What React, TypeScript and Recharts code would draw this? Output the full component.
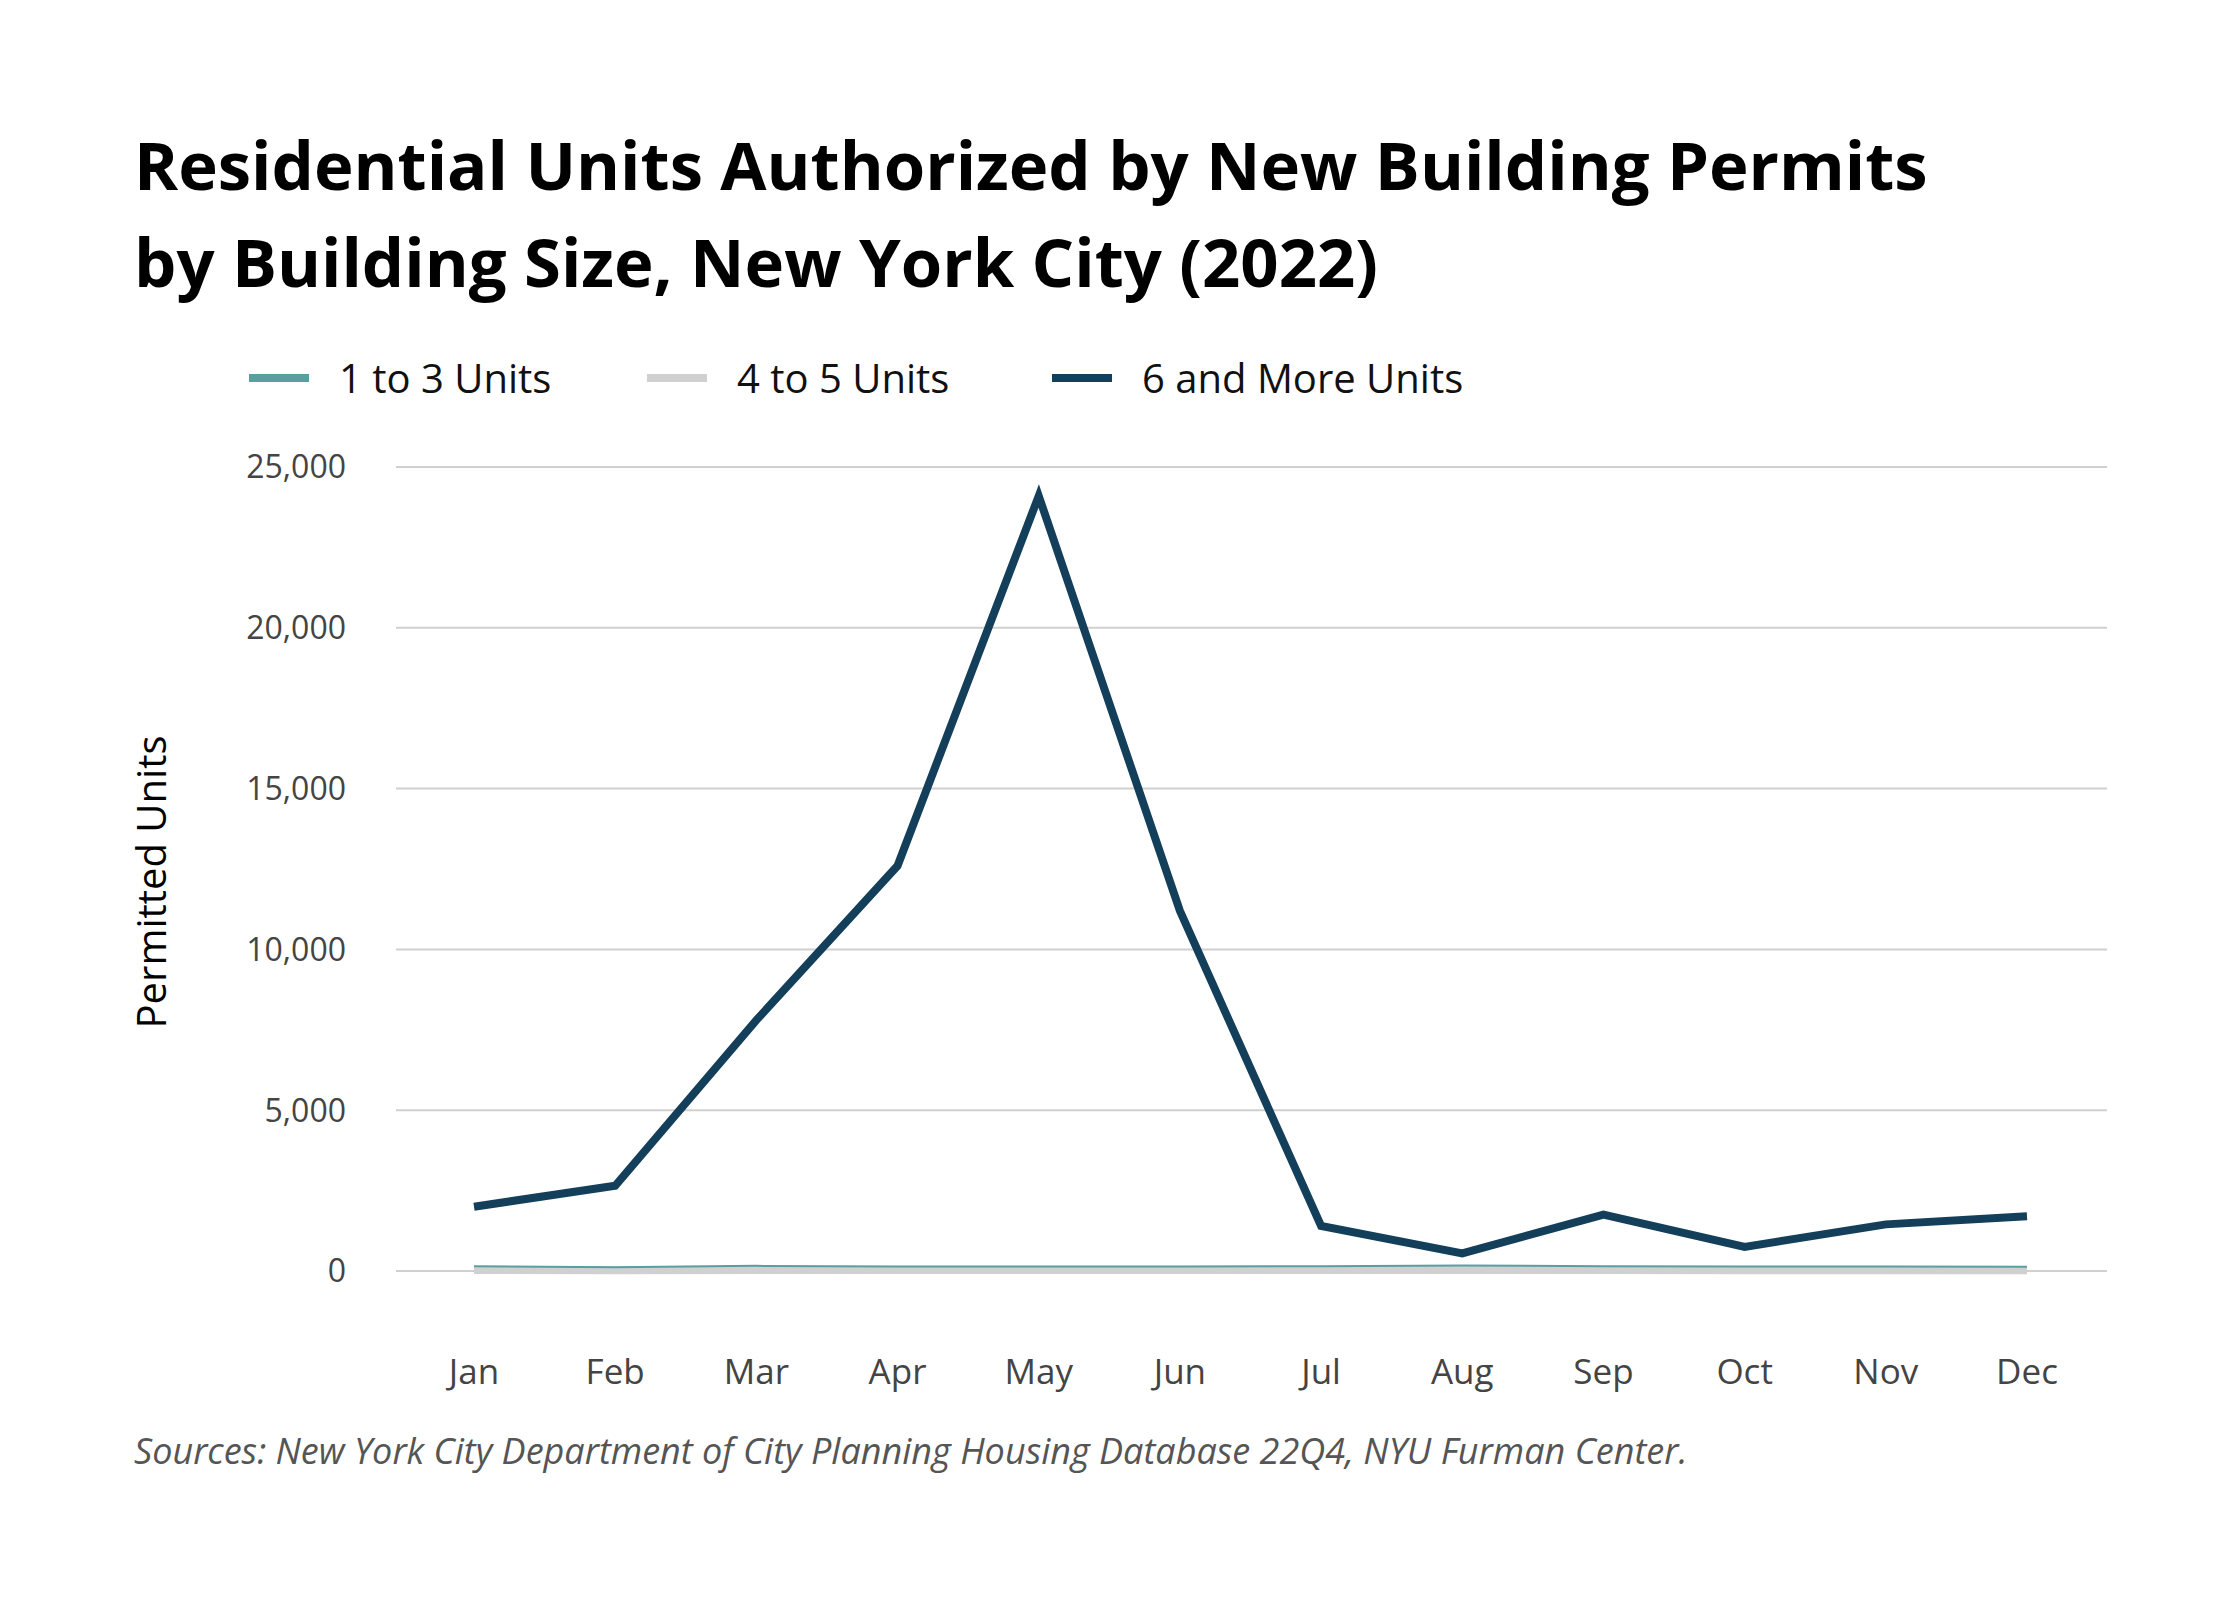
import { CartesianGrid, Line, LineChart, XAxis, YAxis } from "recharts";

const months = ["Jan", "Feb", "Mar", "Apr", "May", "Jun", "Jul", "Aug", "Sep", "Oct", "Nov", "Dec"];
const units1to3 = [150, 120, 160, 140, 140, 140, 150, 170, 150, 140, 140, 130];
const units4to5 = [30, 20, 30, 30, 30, 30, 30, 30, 30, 20, 20, 20];
const units6plus = [2000, 2650, 7800, 12600, 24100, 11200, 1400, 550, 1750, 750, 1450, 1700];
const yTicks = [0, 5000, 10000, 15000, 20000, 25000];

const data = months.map((m, i) => ({
  month: m,
  a: units1to3[i],
  b: units4to5[i],
  c: units6plus[i],
}));

const font = "'Open Sans', sans-serif";
const legendItems = [
  { label: "1 to 3 Units", color: "#5a9ea0", x: 249 },
  { label: "4 to 5 Units", color: "#d0d0d0", x: 647 },
  { label: "6 and More Units", color: "#143f5a", x: 1052 },
];

export default function App() {
  return (
    <div style={{ position: "absolute", left: 0, top: 0, width: 2240, height: 1600, background: "#fff", fontFamily: font }}>
      <div style={{ position: "absolute", left: 134, top: 116, fontSize: 67, fontWeight: 700, lineHeight: "97px", color: "#000", whiteSpace: "nowrap" }}>
        Residential Units Authorized by New Building Permits
        <br />
        by Building Size, New York City (2022)
      </div>
      {legendItems.map((l) => (
        <div key={l.label} style={{ position: "absolute", left: l.x, top: 350, display: "flex", alignItems: "center", fontSize: 40, color: "#111" }}>
          <div style={{ width: 60, height: 8, background: l.color, marginRight: 30 }} />
          {l.label}
        </div>
      ))}
      <div style={{ position: "absolute", left: 0, top: 0 }}>
        <LineChart width={2240} height={1600} data={data} margin={{ top: 467, bottom: 0, left: 0, right: 133 }}>
          <CartesianGrid vertical={false} stroke="#d0d0d0" strokeWidth={2} />
          <XAxis
            dataKey="month"
            axisLine={false}
            tickLine={false}
            padding={{ left: 78, right: 80 }}
            tick={{ fill: "#444", fontSize: 35, fontFamily: font }}
            tickMargin={82}
            height={329}
          />
          <YAxis
            domain={[0, 25000]}
            ticks={yTicks}
            axisLine={false}
            tickLine={false}
            tick={{ fill: "#444", fontSize: 32, fontFamily: font }}
            tickFormatter={(v: number) => v.toLocaleString("en-US")}
            tickMargin={44}
            width={396}
          />
          <Line dataKey="b" stroke="#d0d0d0" strokeWidth={8} dot={false} isAnimationActive={false} />
          <Line dataKey="a" stroke="#5a9ea0" strokeWidth={2} dot={false} isAnimationActive={false} />
          <Line dataKey="c" stroke="#143f5a" strokeWidth={8} dot={false} isAnimationActive={false} />
        </LineChart>
      </div>
      <div style={{ position: "absolute", left: 150, top: 882, transform: "translate(-50%, -50%) rotate(-90deg)", fontSize: 40, color: "#000", whiteSpace: "nowrap" }}>
        Permitted Units
      </div>
      <div style={{ position: "absolute", left: 134, top: 1426, fontSize: 36, fontStyle: "italic", color: "#555" }}>
        Sources: New York City Department of City Planning Housing Database 22Q4, NYU Furman Center.
      </div>
    </div>
  );
}
